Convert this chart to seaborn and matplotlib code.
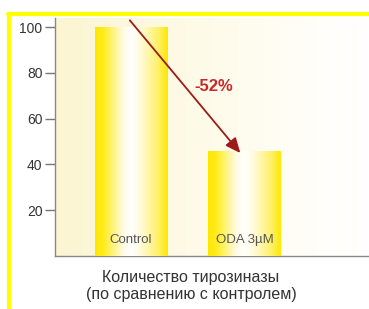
import numpy as np
import pandas as pd
import matplotlib
matplotlib.use("Agg")
import matplotlib.pyplot as plt
import seaborn as sns
from matplotlib.lines import Line2D

# data
categories = ["Control", "ODA 3µM"]
values = [100, 46]
change_label = "-52%"
xlabel_text = "Количество тирозиназы\n(по сравнению с контролем)"
yticks = [20, 40, 60, 80, 100]

df = pd.DataFrame({"group": categories, "value": values})

sns.set_style("white")
plt.rcParams["font.family"] = ["Liberation Sans", "DejaVu Sans"]

fig = plt.figure(figsize=(3.69, 3.09), dpi=100)
ax = fig.add_axes([55 / 369, 1 - 256 / 309, 1 - 55 / 369, 238 / 309])

sns.barplot(data=df, x="group", y="value", ax=ax, color="#ffee00", width=0.64,
            saturation=1, zorder=2)

# plot area background: pale cream fading out to the right
bg = np.linspace(0, 1, 256)[None, :]
bg_cmap = matplotlib.colors.LinearSegmentedColormap.from_list(
    "bg", ["#fbf5d2", "#fdf9e2", "#fffdf2", "#ffffff"])
ax.imshow(bg, cmap=bg_cmap, aspect="auto", extent=[0, 1, 0, 1],
          transform=ax.transAxes, zorder=0)

# yellow -> white -> yellow gradient inside each bar
bar_cmap = matplotlib.colors.LinearSegmentedColormap.from_list(
    "bar", [(0, "#ffe600"), (0.12, "#ffec20"), (0.38, "#fffbe0"),
            (0.5, "#ffffff"), (0.65, "#fffad0"), (0.88, "#fff060"),
            (1, "#ffe800")])
grad = np.linspace(0, 1, 256)[None, :]
for p in ax.patches:
    x0, y0 = p.get_x(), p.get_y()
    w, h = p.get_width(), p.get_height()
    im = ax.imshow(grad, cmap=bar_cmap, aspect="auto",
                   extent=[x0, x0 + w, y0, y0 + h], zorder=3)
    im.set_clip_path(p)
    p.set_edgecolor("none")

ax.set_xlim(-0.667, 2.09)
ax.set_ylim(0, 104)

# category names sit inside the bars
for i, cat in enumerate(categories):
    ax.text(i, 7, cat, ha="center", va="center", fontsize=9.5, color="#555555",
            zorder=5)

ax.set_xticks([])
ax.set_xlabel("")
ax.set_ylabel("")
ax.set_yticks(yticks)
ax.tick_params(axis="y", direction="out", length=7, width=1, color="#777777",
               labelsize=10, labelcolor="#333333", pad=2, left=True)

for side in ["top", "right"]:
    ax.spines[side].set_visible(False)
ax.spines["left"].set_color("#888888")
ax.spines["bottom"].set_color("#888888")
ax.spines["left"].set_linewidth(1)
ax.spines["bottom"].set_linewidth(1)

# arrow showing the drop
ax.annotate("", xy=(0.96, values[1] - 1), xytext=(-0.01, 103),
            arrowprops=dict(arrowstyle="-|>,head_length=0.9,head_width=0.4",
                            color="#9e1a1a", lw=1.3, shrinkA=0, shrinkB=0),
            zorder=6)
ax.text(0.73, 74, change_label, ha="center", va="center", fontsize=12,
        fontweight="bold", color="#c8282a", zorder=6)

fig.text(191 / 369, 1 - 286 / 309, xlabel_text, ha="center", va="center",
         fontsize=11.5, color="#333333", linespacing=1.1)

# yellow frame lines on top and left
fig.add_artist(Line2D([8 / 369, 1], [1 - 14 / 309, 1 - 14 / 309],
                      transform=fig.transFigure, color="#ffff00", lw=3))
fig.add_artist(Line2D([9 / 369, 9 / 369], [0, 1 - 14 / 309],
                      transform=fig.transFigure, color="#ffff00", lw=3))

fig.savefig("out.png", dpi=100)
